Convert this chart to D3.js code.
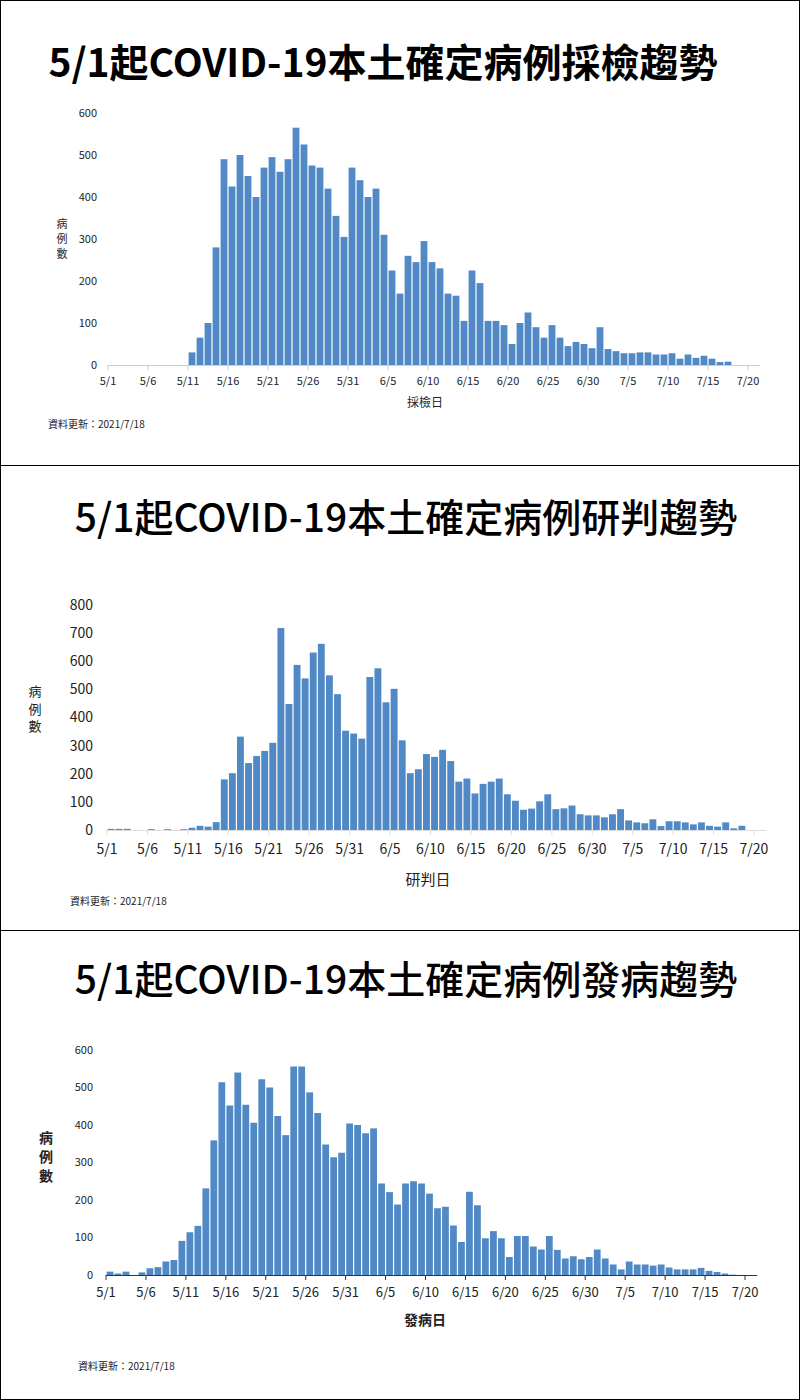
<!DOCTYPE html>
<html lang="zh-Hant">
<head>
<meta charset="UTF-8">
<title>COVID-19</title>
<script src="https://cdn.jsdelivr.net/npm/d3@7"></script>
<style>
  body { margin: 0; background: #fff; }
  svg { display: block; font-family: "Noto Sans CJK TC", "Open Sans", sans-serif; }
</style>
</head>
<body>
<svg id="chart" width="800" height="1400"></svg>
<script>
// day labels every 5 days, 5/1 .. 7/20
var tickLabels = ["5/1","5/6","5/11","5/16","5/21","5/26","5/31","6/5","6/10","6/15","6/20","6/25","6/30","7/5","7/10","7/15","7/20"];

// 採檢日: values from 5/11 to 7/17
var sampleStart = 10;
var sampleValues = [30,65,100,280,490,425,500,450,400,470,495,460,490,565,525,475,470,420,355,305,
  470,440,400,420,310,225,170,260,245,295,245,230,170,165,105,225,195,105,105,95,
  50,100,125,90,65,95,65,45,55,50,40,90,38,33,28,28,30,30,25,25,28,15,25,17,22,15,7,8];

// 研判日: values from 5/1 to 7/18
var judgeStart = 0;
var judgeValues = [4,4,4,0,0,3,0,3,0,3,8,15,12,28,180,202,332,238,263,281,
  310,718,448,587,539,631,662,550,483,353,343,325,544,575,454,502,319,202,216,270,
  260,285,245,172,183,130,164,172,183,127,104,72,76,102,127,74,77,87,56,52,
  52,45,56,74,34,27,24,38,14,31,31,27,20,27,15,12,27,6,15];

// 發病日: values from 5/1 to 7/18
var onsetStart = 0;
var onsetValues = [9,4,9,0,7,18,21,36,40,91,114,131,231,359,514,452,540,454,406,522,
  500,424,373,556,556,487,432,348,314,326,404,400,378,391,244,221,188,244,250,244,
  217,178,182,132,88,222,186,98,117,98,48,104,104,76,68,104,67,44,50,42,
  48,68,44,28,15,36,28,28,25,28,20,15,15,15,19,11,8,4,1];

var svg = d3.select("#chart");
var blue = "#5189c6";

function panel(o) {
  var g = svg.append("g").attr("transform", "translate(0," + o.top + ")");
  g.append("rect").attr("x", 0.5).attr("y", 0.5).attr("width", 799).attr("height", o.h - 1)
    .attr("fill", "#fff").attr("stroke", "#000");
  g.append("text").attr("x", o.titleX).attr("y", o.titleY).attr("text-anchor", "middle")
    .attr("font-size", o.titleFs).attr("font-weight", o.titleWeight).text(o.title);

  var x = d3.scaleLinear().domain([0, 80]).range([o.x0, o.x1]);
  var y = d3.scaleLinear().domain([0, o.ymax]).range([o.y0, o.ytop]);
  var dw = x(1) - x(0);

  g.selectAll("rect.bar").data(o.values).enter().append("rect")
    .attr("class", "bar")
    .attr("x", function(d, i) { return x(o.start + i) + 0.6; })
    .attr("width", dw - 1.2)
    .attr("y", function(d) { return y(d); })
    .attr("height", function(d) { return o.y0 - y(d); })
    .attr("fill", blue);

  // x axis
  g.append("line").attr("x1", o.x0).attr("x2", o.x1 + dw * 1.5).attr("y1", o.y0 + 0.5).attr("y2", o.y0 + 0.5)
    .attr("stroke", o.axisColor);
  tickLabels.forEach(function(t, i) {
    var tx = x(i * 5);
    g.append("line").attr("x1", tx).attr("x2", tx).attr("y1", o.y0).attr("y2", o.y0 + 5).attr("stroke", o.axisColor);
    g.append("text").attr("x", tx).attr("y", o.y0 + o.xlabOff).attr("text-anchor", "middle")
      .attr("font-size", o.xfs).attr("fill", "#222").text(t);
  });

  // y tick labels
  y.ticks(o.ymax / 100).forEach(function(v) {
    g.append("text").attr("x", o.yLabX).attr("y", y(v) + o.yfs * 0.35).attr("text-anchor", "end")
      .attr("font-size", o.yfs).attr("fill", "#222").text(v);
  });

  // y title stacked
  ["病", "例", "數"].forEach(function(c, i) {
    g.append("text").attr("x", o.yTitleX).attr("y", o.yTitleY + i * o.yTitleFs * 1.35).attr("text-anchor", "middle")
      .attr("font-size", o.yTitleFs).attr("font-weight", o.labWeight).attr("fill", "#222").text(c);
  });
  g.append("text").attr("x", o.xTitleX).attr("y", o.xTitleY).attr("text-anchor", "middle")
    .attr("font-size", o.xTitleFs).attr("font-weight", o.labWeight).attr("fill", "#222").text(o.xTitle);
  g.append("text").attr("x", o.noteX).attr("y", o.noteY).attr("font-size", 10).attr("fill", "#222")
    .text("資料更新：2021/7/18");
}

panel({ top: 0, h: 466, title: "5/1起COVID-19本土確定病例採檢趨勢", titleX: 383, titleY: 77, titleFs: 39, titleWeight: "bold",
  values: sampleValues, start: sampleStart, x0: 108, x1: 748, y0: 365, ytop: 113, ymax: 600,
  axisColor: "#ccc", xfs: 11, xlabOff: 20, yfs: 11, yLabX: 97,
  yTitleX: 62, yTitleY: 228, yTitleFs: 11, labWeight: "normal",
  xTitle: "採檢日", xTitleX: 425, xTitleY: 407, xTitleFs: 12, noteX: 48, noteY: 428 });

panel({ top: 465, h: 466, title: "5/1起COVID-19本土確定病例研判趨勢", titleX: 406, titleY: 67, titleFs: 39, titleWeight: 500,
  values: judgeValues, start: judgeStart, x0: 107, x1: 754, y0: 365, ytop: 140, ymax: 800,
  axisColor: "#ddd", xfs: 14, xlabOff: 24, yfs: 14, yLabX: 93,
  yTitleX: 35, yTitleY: 231, yTitleFs: 13, labWeight: "normal",
  xTitle: "研判日", xTitleX: 428, xTitleY: 420, xTitleFs: 15, noteX: 70, noteY: 440 });

panel({ top: 930, h: 470, title: "5/1起COVID-19本土確定病例發病趨勢", titleX: 406, titleY: 64, titleFs: 39, titleWeight: 500,
  values: onsetValues, start: onsetStart, x0: 106, x1: 745, y0: 345, ytop: 120, ymax: 600,
  axisColor: "#333", xfs: 13, xlabOff: 22, yfs: 11, yLabX: 93,
  yTitleX: 46, yTitleY: 213, yTitleFs: 14, labWeight: "bold",
  xTitle: "發病日", xTitleX: 425, xTitleY: 395, xTitleFs: 14, noteX: 78, noteY: 440 });
</script>
</body>
</html>
